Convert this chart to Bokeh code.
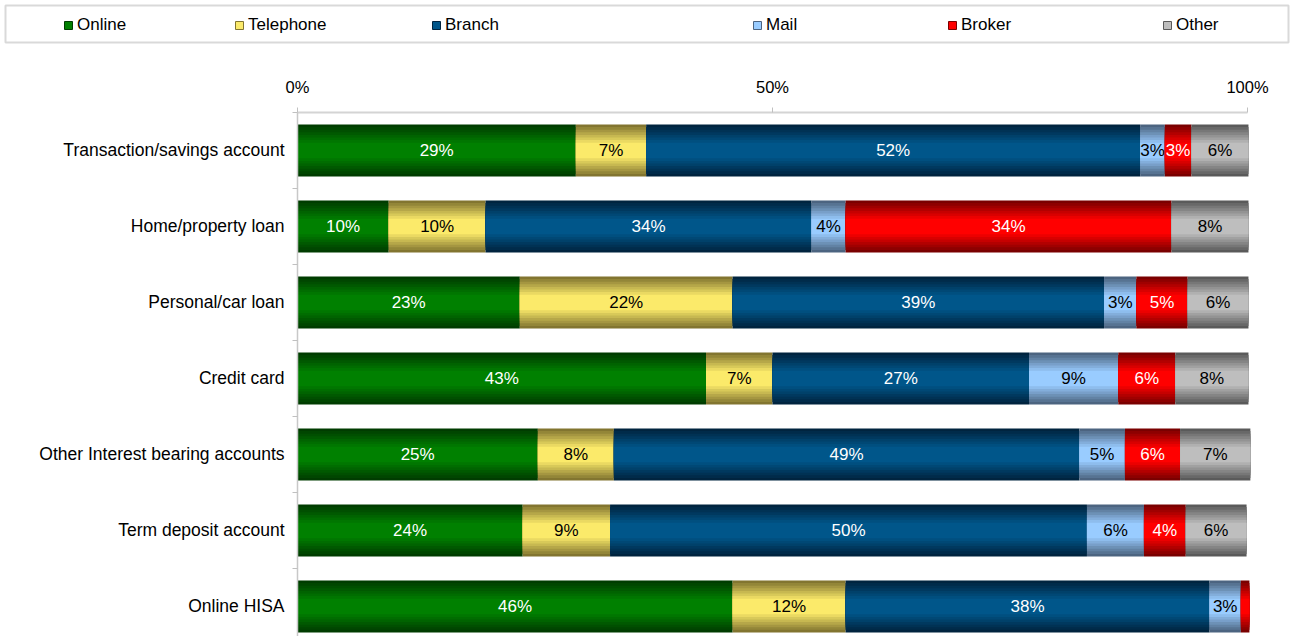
from bokeh.plotting import figure
from bokeh.models import (Range1d, FixedTicker, PrintfTickFormatter, ColumnDataSource,
                          Legend, LegendItem)
from bokeh.embed import file_html
from bokeh.resources import INLINE
from bokeh.core.properties import value

categories = ["Transaction/savings account", "Home/property loan", "Personal/car loan",
              "Credit card", "Other Interest bearing accounts", "Term deposit account",
              "Online HISA"]
series = ["Online", "Telephone", "Branch", "Mail", "Broker", "Other"]

online    = [29.3,  9.6, 23.4, 43.0, 25.3, 23.7, 45.8]
telephone = [ 7.4, 10.2, 22.4,  7.0,  8.0,  9.2, 11.9]
branch    = [52.0, 34.3, 39.1, 27.0, 49.0, 50.2, 38.3]
mail      = [ 2.6,  3.6,  3.4,  9.4,  4.8,  6.0,  3.3]
broker    = [ 2.8, 34.3,  5.4,  6.0,  5.8,  4.4,  0.9]
other     = [ 6.0,  8.1,  6.4,  7.7,  7.4,  6.4,  0.0]
values = [online, telephone, branch, mail, broker, other]

x_ticks = [0, 50, 100]

FONT = "Liberation Sans"
center_colors = ["#008000", "#fbea6a", "#00568a", "#99ccff", "#ff0000", "#bebebe"]
edge_colors   = ["#003c00", "#827530", "#00243f", "#4c6480", "#7a0000", "#5a5a5a"]
label_colors  = ["white", "black", "white", "black", "white", "black"]


def mix(c1, c2, t):
    a = [int(c1[i:i + 2], 16) for i in (1, 3, 5)]
    b = [int(c2[i:i + 2], 16) for i in (1, 3, 5)]
    return "#" + "".join(f"{round(x + (y - x) * t):02x}" for x, y in zip(a, b))


BAR_H = 0.684
ys = list(range(len(categories)))

p = figure(width=1290, height=592, output_backend="svg", toolbar_location=None,
           x_range=Range1d(0, 102.42), y_range=Range1d(6.395, -0.5),
           x_axis_location="above", min_border_left=297, min_border_right=20,
           min_border_top=68, min_border_bottom=0)
p.outline_line_color = None
p.xgrid.visible = False
p.ygrid.visible = False
p.background_fill_color = "white"
p.border_fill_color = "white"

NL = 8
layers = [(1.0 - 0.7 * k / (NL - 1), k / (NL - 1)) for k in range(NL)]
cum = [0.0] * len(categories)
for s, vals in enumerate(values):
    left = cum[:]
    right = [l + v for l, v in zip(left, vals)]
    cum = right
    src = ColumnDataSource(dict(y=ys, left=left, right=right))
    for hf, t in layers:
        p.hbar(y="y", left="left", right="right", height=BAR_H * hf, source=src,
               fill_color=mix(edge_colors[s], center_colors[s], t), line_color=None)
    keep = [i for i, v in enumerate(vals) if v >= 1.5]
    lsrc = ColumnDataSource(dict(
        x=[(left[i] + right[i]) / 2 for i in keep],
        y=[ys[i] for i in keep],
        text=[f"{round(vals[i])}%" for i in keep]))
    p.text(x="x", y="y", text="text", source=lsrc, text_align="center",
           text_baseline="middle", text_color=label_colors[s],
           text_font=value(FONT), text_font_size="17px")

xa = p.xaxis[0]
xa.ticker = FixedTicker(ticks=x_ticks)
xa.formatter = PrintfTickFormatter(format="%d%%")
xa.bounds = (0, 100)
xa.axis_line_color = "#d4d4d4"
xa.axis_line_width = 2
xa.major_tick_line_color = "#c0c0c0"
xa.major_tick_in = 0
xa.major_tick_out = 5
xa.major_label_standoff = 12
xa.major_label_text_font = FONT
xa.major_label_text_font_size = "16.5px"
xa.major_label_text_color = "black"

ya = p.yaxis[0]
ya.ticker = FixedTicker(ticks=ys, minor_ticks=[i - 0.5 for i in ys])
ya.major_label_overrides = {i: c for i, c in zip(ys, categories)}
ya.major_tick_line_color = None
ya.major_tick_in = 0
ya.major_tick_out = 0
ya.minor_tick_in = 0
ya.minor_tick_out = 5
ya.minor_tick_line_color = "#c0c0c0"
ya.axis_line_color = "#c8c8c8"
ya.axis_line_width = 1.5
ya.major_label_standoff = 8
ya.major_label_text_font = FONT
ya.major_label_text_font_size = "17.5px"
ya.major_label_text_color = "black"

# legend strip
leg = figure(width=1290, height=44, output_backend="svg", toolbar_location=None,
             x_range=Range1d(0, 1), y_range=Range1d(0, 1),
             min_border_left=5, min_border_right=2, min_border_top=5,
             min_border_bottom=2, x_axis_type=None, y_axis_type=None)
leg.xgrid.visible = False
leg.ygrid.visible = False
leg.outline_line_color = "#d9d9d9"
leg.outline_line_width = 2
leg_x = [58, 229, 426, 747, 942, 1157]
for s, name in enumerate(series):
    r = leg.rect(x=[-5], y=[-5], width=1, height=1, fill_color=center_colors[s],
                 line_color=edge_colors[s])
    lg = Legend(items=[LegendItem(label=name, renderers=[r])], location=(leg_x[s], 7),
                padding=0, margin=0, spacing=0, glyph_width=10, glyph_height=10,
                label_standoff=4, border_line_color=None, background_fill_alpha=0,
                label_text_font=FONT, label_text_font_size="17px",
                label_text_color="black")
    leg.add_layout(lg, "center")

open("out.html", "w").write(file_html([leg, p], INLINE))
